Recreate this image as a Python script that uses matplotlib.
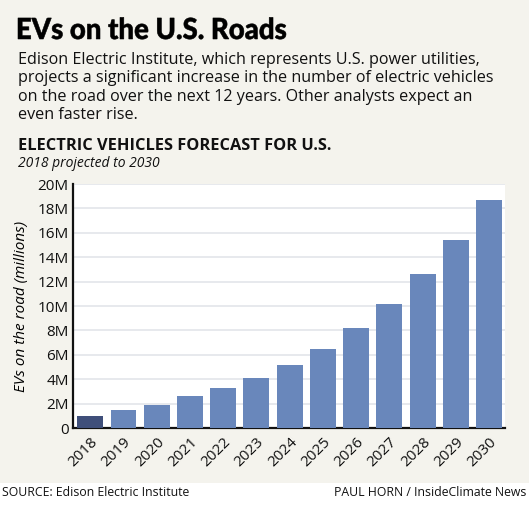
import numpy as np
import matplotlib.pyplot as plt
from matplotlib.ticker import FuncFormatter
from matplotlib.textpath import TextPath
from matplotlib.patches import PathPatch
from matplotlib.font_manager import FontProperties
from matplotlib.transforms import Affine2D

years = ["2018", "2019", "2020", "2021", "2022", "2023", "2024",
         "2025", "2026", "2027", "2028", "2029", "2030"]
evs_millions = [1.0, 1.45, 1.9, 2.6, 3.3, 4.1, 5.2, 6.5, 8.2, 10.2, 12.6, 15.4, 18.7]
y_ticks = [0, 2, 4, 6, 8, 10, 12, 14, 16, 18, 20]

plt.rcParams['font.family'] = ['Open Sans', 'DejaVu Sans']

W, H = 529, 505
bg = "#f4f3ed"
bar_col = "#6987bb"
first_col = "#3f4f7a"

fig = plt.figure(figsize=(W/100, H/100), dpi=100)
fig.patch.set_facecolor("white")
# beige panel behind everything except the footer
fig.patches.append(plt.Rectangle((0, 22/H), 1, 1 - 22/H, transform=fig.transFigure,
                                 facecolor=bg, edgecolor="none", zorder=-5))

ax = fig.add_axes([73/W, 77/H, 432/W, 244/H])
ax.set_facecolor("white")

x = np.arange(len(years))
colors = [first_col] + [bar_col] * (len(years) - 1)
ax.bar(x, evs_millions, width=0.78, color=colors, zorder=3)

ax.set_xlim(-0.52, len(years) - 0.52)
ax.set_ylim(0, 20)
ax.set_yticks(y_ticks)
ax.yaxis.set_major_formatter(FuncFormatter(lambda v, p: "0" if v == 0 else f"{int(v)}M"))
ax.grid(axis="y", color="#e3e5ea", linewidth=1.2, zorder=0)
ax.set_xticks(x)
ax.set_xticklabels(years, rotation=45, ha="right", rotation_mode="anchor")
ax.tick_params(axis="both", length=0, labelsize=11, colors="#111111", pad=3)
ax.tick_params(axis="x", pad=5)
for s in ["top", "right"]:
    ax.spines[s].set_visible(False)
for s in ["left", "bottom"]:
    ax.spines[s].set_linewidth(1.6)
    ax.spines[s].set_color("#111111")
ax.set_ylabel("EVs on the road (millions)", fontsize=11, style="italic", labelpad=6)

# condensed heavy title: draw glyph outline and squeeze it horizontally
title = "EVs on the U.S. Roads"
tp = TextPath((0, 0), title, size=29, prop=FontProperties(family="Lato", weight="black"))
ext = tp.get_extents()
sx = 268 / ext.width
tr = Affine2D().translate(-ext.x0, 0).scale(sx, 1).translate(18, H - 39)
fig.patches.append(PathPatch(tr.transform_path(tp), facecolor="black", edgecolor="black",
                             linewidth=0.4, transform=None, zorder=5))

body = ("Edison Electric Institute, which represents U.S. power utilities,\n"
        "projects a significant increase in the number of electric vehicles\n"
        "on the road over the next 12 years. Other analysts expect an\n"
        "even faster rise.")
fig.text(18/W, 1 - 52/H, body, fontsize=11.6, va="top", ha="left",
         linespacing=1.2, color="#111111")
fig.text(18/W, 1 - 138/H, "ELECTRIC VEHICLES FORECAST FOR U.S.", fontsize=11.8,
         fontweight="bold", va="top", ha="left", color="#111111")
fig.text(18/W, 1 - 156/H, "2018 projected to 2030", fontsize=10, style="italic",
         va="top", ha="left", color="#111111")

fig.text(2/W, 6/H, "SOURCE: Edison Electric Institute", fontsize=8.8,
         va="bottom", ha="left", color="#111111")
fig.text(526/W, 6/H, "PAUL HORN / InsideClimate News", fontsize=8.8,
         va="bottom", ha="right", color="#111111")

fig.savefig("out.png", dpi=100, facecolor=fig.get_facecolor())
